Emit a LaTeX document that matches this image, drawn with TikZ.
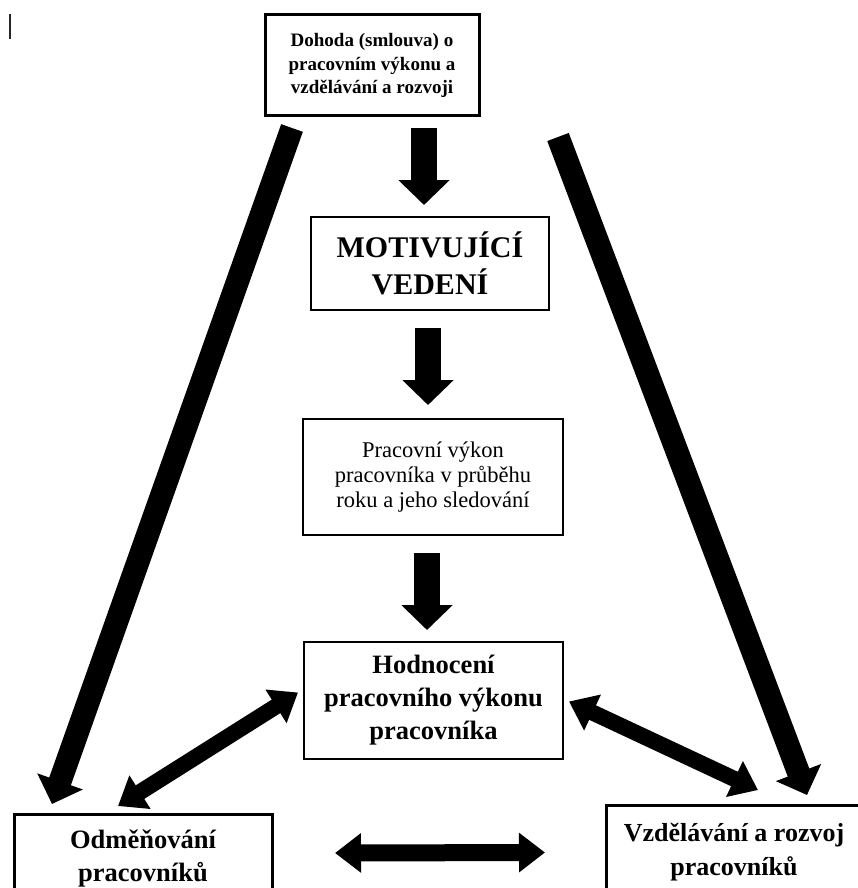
\documentclass[tikz,border=0pt]{standalone}
\usepackage{fontspec}
\setmainfont{Liberation Serif}
\usetikzlibrary{arrows.meta,calc}

\begin{document}
\begin{tikzpicture}[x=1pt, y=-1pt,
    box/.style = {draw, align=center, inner sep=0pt, outer sep=0pt},
    fat/.style = {line width=26pt, -{Triangle[length=25pt,width=50pt]}},
    slant/.style = {line width=23pt, -{Triangle[length=24pt,width=47pt]}},
    both/.style = {line width=16pt,
      {Triangle[length=26pt,width=38pt]}-{Triangle[length=26pt,width=38pt]}}]
  \useasboundingbox (0,0) rectangle (858,888);
  \clip (0,0) rectangle (858,888);
  % cursor mark
  \draw[line width=2.5pt, black!85] (10,14) -- (10,39);

  \node[box, line width=3pt, minimum width=214pt, minimum height=101pt,
    font=\fontsize{19}{23.5}\selectfont\bfseries] (dohoda) at (372,65.5)
    {Dohoda (smlouva) o\\pracovním výkonu a\\vzdělávání a rozvoji};
  \node[box, line width=1.5pt, minimum width=238pt, minimum height=93pt,
    font=\fontsize{30}{37}\selectfont\bfseries] (motiv) at (430,263.5)
    {MOTIVUJÍCÍ\\VEDENÍ};
  \node[box, line width=2pt, minimum width=260pt, minimum height=116pt,
    font=\fontsize{22.5}{25}\selectfont] (prac) at (433,477)
    {Pracovní výkon\\pracovníka v průběhu\\roku a jeho sledování};
  \node[box, line width=2.5pt, minimum width=259pt, minimum height=117pt,
    font=\fontsize{26.5}{33}\selectfont\bfseries] (hodn) at (433.5,700.5)
    {Hodnocení\\pracovního výkonu\\pracovníka};
  \node[box, line width=3pt, minimum width=258pt, minimum height=88pt,
    font=\fontsize{26.5}{33}\selectfont\bfseries] (odm) at (143,858)
    {Odměňování\\pracovníků};
  \node[box, line width=3pt, minimum width=256pt, minimum height=95pt,
    font=\fontsize{26}{34}\selectfont\bfseries] (vzd) at (734,852.5)
    {Vzdělávání a rozvoj\\pracovníků};

  % down the middle
  \draw[fat] ($(dohoda.south -| motiv.north)+(-6,12)$) -- ($(motiv.north)+(-6,-12)$);
  \draw[fat] ($(motiv.south)+(-2,18)$) -- ($(motiv.south |- prac.north)+(-2,-14)$);
  \draw[fat] ($(prac.south)+(-6,18)$) -- ($(prac.south |- hodn.north)+(-6,-12)$);

  % long sides
  \draw[slant] ($(dohoda.south west)+(27,12)$) -- ($(odm.north west)+(38,-10)$);
  \draw[slant] ($(dohoda.south east)+(79,21)$) -- ($(vzd.north west)+(201,-10)$);

  % both ways
  \draw[both] ($(hodn.west)+(-6,-8)$) -- ($(odm.north)+(-25,-8)$);
  \draw[both] ($(hodn.east)+(6,1)$) -- ($(vzd.north)+(24,-15)$);
  \draw[both, line width=17pt] ($(odm.east)+(63,-5)$) -- ($(vzd.west)+(-61,0)$);
\end{tikzpicture}
\end{document}
